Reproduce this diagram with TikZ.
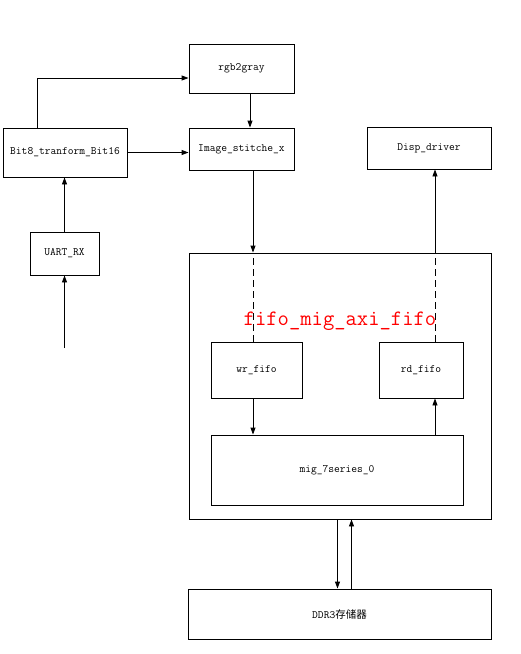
\documentclass[tikz,border=0pt]{standalone}
\usepackage{fontspec}
\usepackage{tikz}
\usetikzlibrary{arrows.meta}
\newfontfamily\cjk{Noto Sans CJK SC}

\begin{document}
\begin{tikzpicture}[
  x=1pt, y=-1pt,
  blk/.style={draw, line width=0.9pt, inner sep=0pt, align=center, font=\ttfamily\fontsize{11.2}{13}\selectfont},
  rel/.style={-{Triangle[length=7pt,width=5pt]}, line width=0.9pt},
  lnk/.style={line width=0.9pt, dash pattern=on 7pt off 4pt}
]
  \useasboundingbox (0,0) rectangle (520,654);

  \node[blk, minimum width=105pt, minimum height=49pt] (rgb) at (241.5,68.5) {rgb2gray};
  \node[blk, minimum width=124pt, minimum height=49pt] (bit) at (65,152.5) {Bit8\_tranform\_Bit16};
  \node[blk, minimum width=105pt, minimum height=42pt] (stitch) at (241.5,149) {Image\_stitche\_x};
  \node[blk, minimum width=124pt, minimum height=42pt] (disp) at (429,148) {Disp\_driver};
  \node[blk, minimum width=69pt, minimum height=43pt] (uart) at (64.5,253.5) {UART\_RX};
  \coordinate (rxin) at (64.5,348);

  % fifo_mig_axi_fifo block
  \node[blk, minimum width=302pt, minimum height=266pt] (fifo) at (340,386) {};
  \node[font=\ttfamily\fontsize{22}{24}\selectfont, text=red] (lbl) at (340,321) {fifo\_mig\_axi\_fifo};
  \node[blk, minimum width=91pt, minimum height=56pt] (wr) at (256.5,370) {wr\_fifo};
  \node[blk, minimum width=84pt, minimum height=56pt] (rd) at (421,370) {rd\_fifo};
  \node[blk, minimum width=252pt, minimum height=70pt] (mig) at (337,470) {mig\_7series\_0};
  \node[blk, minimum width=303pt, minimum height=50pt] (ddr) at (339.5,614) {DDR3{\cjk\fontsize{10.5}{12}\selectfont 存储器}};

  \draw[rel] ([xshift=-28pt]bit.north) |- ([yshift=-9.5pt]rgb.west);
  \draw[rel] (bit.east) -- (bit.east -| stitch.west);
  \draw[rel] ([xshift=8.5pt]rgb.south) -- ([xshift=8.5pt]rgb.south |- stitch.north);
  \draw[rel] (uart.north) -- (uart.north |- bit.south);
  \draw[rel] (rxin) -- (uart.south);

  \draw[rel] ([xshift=11.5pt]stitch.south) -- ([xshift=11.5pt]stitch.south |- fifo.north);
  \draw[lnk] ([xshift=-3.5pt]wr.north) -- ([xshift=-3.5pt]wr.north |- fifo.north);
  \draw[rel] ([xshift=14pt]rd.north |- fifo.north) -- ([xshift=14pt]rd.north |- disp.south);
  \draw[lnk] ([xshift=14pt]rd.north) -- ([xshift=14pt]rd.north |- fifo.north);
  \draw[rel] ([xshift=-3.5pt]wr.south) -- ([xshift=-3.5pt]wr.south |- mig.north);
  \draw[rel] ([xshift=14pt]rd.south |- mig.north) -- ([xshift=14pt]rd.south);

  \draw[rel] ([xshift=-2pt]ddr.north |- fifo.south) -- ([xshift=-2pt]ddr.north);
  \draw[rel] ([xshift=12pt]ddr.north) -- ([xshift=12pt]ddr.north |- fifo.south);
\end{tikzpicture}
\end{document}
